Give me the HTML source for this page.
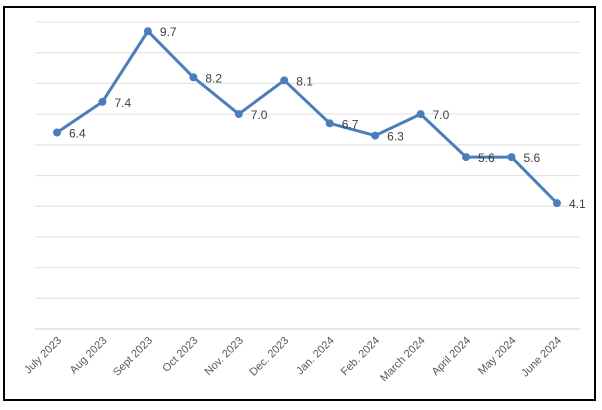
<!DOCTYPE html>
<html><head><meta charset="utf-8"><style>
body{margin:0;background:#fff;width:602px;height:410px;overflow:hidden}
svg{display:block;font-family:"Liberation Sans",sans-serif}
</style></head><body>
<svg width="602" height="410">
<rect x="4" y="7" width="591" height="393" fill="#fff" stroke="#000" stroke-width="2"/>
<g id="grid"></g>
<g id="xlabels"></g>
<g id="series"></g>
</svg>
<script>
const categories=["July 2023","Aug 2023","Sept 2023","Oct 2023","Nov. 2023","Dec. 2023","Jan. 2024","Feb. 2024","March 2024","April 2024","May 2024","June 2024"];
const values=[6.4,7.4,9.7,8.2,7.0,8.1,6.7,6.3,7.0,5.6,5.6,4.1];
const yTicks=[0,1,2,3,4,5,6,7,8,9,10];
const NS="http://www.w3.org/2000/svg";
const x0=57,step=45.45,yBase=329,yUnit=30.7;
const xs=i=>x0+i*step, ys=v=>yBase-v*yUnit;
function mk(t,a,p){const e=document.createElementNS(NS,t);for(const k in a)e.setAttribute(k,a[k]);p.appendChild(e);return e;}
const grid=document.getElementById('grid');
yTicks.forEach(t=>{const l=mk('line',{x1:35,x2:580,y1:ys(t),y2:ys(t),stroke:t===0?'#d9d9d9':'#e6e6e6','stroke-width':1.3},grid);

});
const xl=document.getElementById('xlabels');
categories.forEach((c,i)=>{const x=xs(i)+5,y=341;const t=mk('text',{x:x,y:y,'text-anchor':'end','font-size':11,fill:'#595959',transform:`rotate(-45 ${x} ${y})`},xl);t.textContent=c;

});
const s=document.getElementById('series');
const pl=mk('polyline',{points:values.map((v,i)=>xs(i)+','+ys(v)).join(' '),fill:'none',stroke:'#4a7ebb','stroke-width':3,'stroke-linejoin':'round'},s);


values.forEach((v,i)=>{const c=mk('circle',{cx:xs(i),cy:ys(v),r:4,fill:'#4a7ebb'},s);


const t=mk('text',{x:xs(i)+12,y:ys(v)+5,'font-size':12,fill:'#404040'},s);t.textContent=v.toFixed(1);

});
</script>
</body></html>
